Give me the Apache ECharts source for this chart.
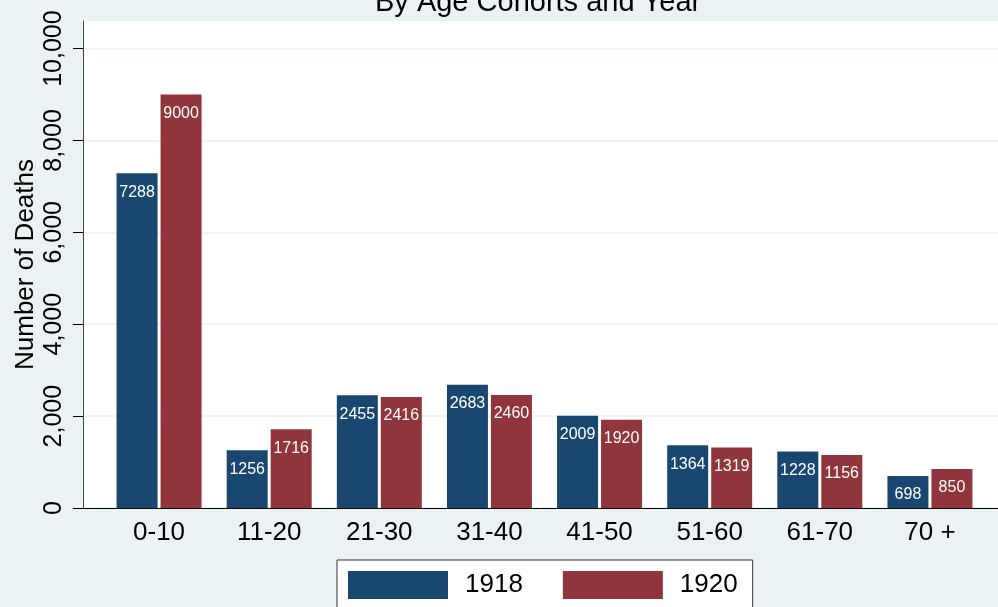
<!DOCTYPE html>
<html>
<head>
<meta charset="utf-8">
<script src="https://cdn.jsdelivr.net/npm/echarts@6/dist/echarts.min.js"></script>
<style>
  html, body { margin: 0; padding: 0; background: #eaf2f3; }
  #chart { width: 998px; height: 607px; }
</style>
</head>
<body>
<div id="chart"></div>
<script>
// data
var ageGroups = ['0-10', '11-20', '21-30', '31-40', '41-50', '51-60', '61-70', '70 +'];
var deaths1918 = [7288, 1256, 2455, 2683, 2009, 1364, 1228, 698];
var deaths1920 = [9000, 1716, 2416, 2460, 1920, 1319, 1156, 850];
var yTicks = [0, 2000, 4000, 6000, 8000, 10000];
var yMax = 10600;

var font = 'Liberation Sans';
var navy = '#1a476f';
var maroon = '#90353b';

var chart = echarts.init(document.getElementById('chart'));

var barLabel = {
    show: true,
    position: 'insideTop',
    distance: 11,
    color: '#fff',
    fontSize: 16,
    fontFamily: font
};

var option = {
    backgroundColor: '#eaf2f3',
    animation: false,
    title: {
        text: 'By Age Cohorts and Year',
        left: 375,
        top: -12,
        padding: 0,
        textStyle: { fontSize: 29, fontWeight: 'normal', color: '#000', fontFamily: font }
    },
    legend: {
        data: ['1918', '1920'],
        left: 337,
        top: 560,
        padding: [11, 15, 12, 11],
        backgroundColor: '#fff',
        borderColor: '#333',
        borderWidth: 1,
        borderRadius: 0,
        itemWidth: 100,
        itemHeight: 28,
        itemGap: 40,
        icon: 'rect',
        textStyle: { fontSize: 26, color: '#000', fontFamily: font, padding: [0, 0, 0, 12] }
    },
    grid: [
        // white plot region + y axis
        { left: 83, right: -5, top: 21, bottom: 99, show: true, backgroundColor: '#fff', borderWidth: 0 },
        // bars
        { left: 104, right: 13, top: 21, bottom: 99 }
    ],
    xAxis: [
        {
            gridIndex: 0, type: 'value', min: 0, max: 1,
            axisLine: { show: true, lineStyle: { color: '#000', width: 1 } },
            axisTick: { show: false }, axisLabel: { show: false }, splitLine: { show: false }
        },
        {
            gridIndex: 1, type: 'category', data: ageGroups,
            axisLine: { show: false }, axisTick: { show: false },
            axisLabel: { fontSize: 26, color: '#000', fontFamily: font, margin: 12 }
        }
    ],
    yAxis: [
        {
            gridIndex: 0, type: 'value', min: 0, max: yMax,
            name: 'Number of Deaths',
            nameLocation: 'middle',
            nameGap: 44,
            nameMoveOverlap: false,
            nameTextStyle: { fontSize: 26, color: '#000', fontFamily: font },
            axisLine: { show: true, lineStyle: { color: '#444', width: 1 } },
            axisTick: { show: true, length: 10, customValues: yTicks, lineStyle: { color: '#000' } },
            axisLabel: {
                rotate: 90, margin: 16, fontSize: 25, color: '#000', fontFamily: font,
                customValues: yTicks,
                formatter: function (v) { return v.toLocaleString('en-US'); }
            },
            splitLine: { show: true, lineStyle: { color: '#eaf2f3', width: 1.5 } }
        },
        {
            gridIndex: 1, type: 'value', min: 0, max: yMax, show: false,
            splitLine: { show: false }
        }
    ],
    series: [
        {
            name: '1918', type: 'bar', xAxisIndex: 1, yAxisIndex: 1,
            data: deaths1918, barWidth: 41, barGap: '7.3%',
            itemStyle: { color: navy }, label: barLabel
        },
        {
            name: '1920', type: 'bar', xAxisIndex: 1, yAxisIndex: 1,
            data: deaths1920, barWidth: 41, barGap: '7.3%',
            itemStyle: { color: maroon }, label: barLabel
        }
    ]
};

chart.setOption(option);
</script>
</body>
</html>
